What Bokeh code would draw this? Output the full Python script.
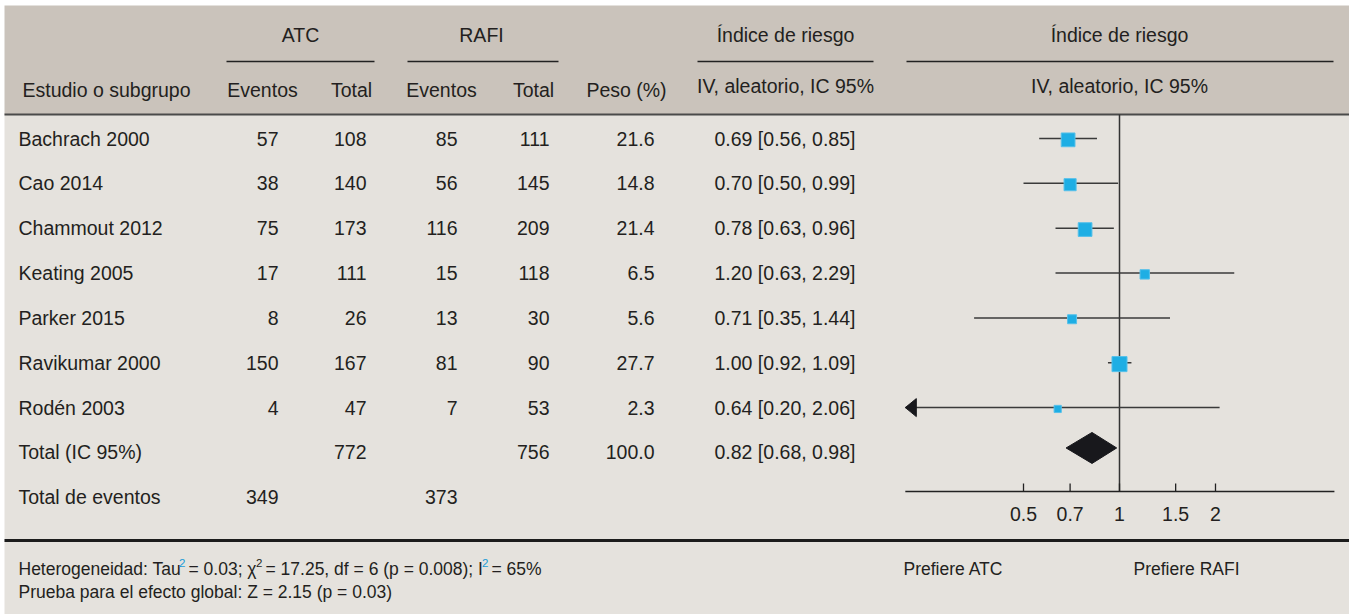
import math
from bokeh.plotting import figure
from bokeh.models import Range1d, LogScale
from bokeh.core.properties import value
from bokeh.embed import file_html
from bokeh.resources import INLINE

# ---------------- data ----------------
studies = ["Bachrach 2000", "Cao 2014", "Chammout 2012", "Keating 2005",
           "Parker 2015", "Ravikumar 2000", "Rodén 2003"]
atc_events = [57, 38, 75, 17, 8, 150, 4]
atc_total = [108, 140, 173, 111, 26, 167, 47]
rafi_events = [85, 56, 116, 15, 13, 81, 7]
rafi_total = [111, 145, 209, 118, 30, 90, 53]
weights = [21.6, 14.8, 21.4, 6.5, 5.6, 27.7, 2.3]
hr = [0.69, 0.70, 0.78, 1.20, 0.71, 1.00, 0.64]
ci_low = [0.56, 0.50, 0.63, 0.63, 0.35, 0.92, 0.20]
ci_high = [0.85, 0.99, 0.96, 2.29, 1.44, 1.09, 2.06]

total_label = "Total (IC 95%)"
total_atc = 772
total_rafi = 756
total_weight = 100.0
total_hr = 0.82
total_low = 0.68
total_high = 0.98

events_label = "Total de eventos"
events_atc = 349
events_rafi = 373

axis_ticks = [0.5, 0.7, 1, 1.5, 2]
axis_tick_labels = ["0.5", "0.7", "1", "1.5", "2"]

# ---------------- layout ----------------
W, H = 1349, 614
ROW0, PITCH = 138.0, 44.85          # page y of first row, row pitch (px)
X_ONE, UNIT = 1119.0, 96.0          # page x of HR=1, px per doubling
FOREST_LO, FOREST_HI = 0.213, 4.72  # forest axis limits

def py(v):
    return (v - ROW0) / PITCH

def hr_at(px):
    return 2 ** ((px - X_ONE) / UNIT)

FONT = value("Liberation Sans")
TXT = "#231f20"
BODY = "19.5px"

p = figure(width=W, height=H, x_range=Range1d(0, W),
           y_range=Range1d(py(H), py(0)),
           x_axis_type=None, y_axis_type=None, toolbar_location=None,
           output_backend="svg", min_border=0, outline_line_color=None,
           background_fill_color="white", border_fill_color="white")
p.extra_x_ranges = {"hr": Range1d(hr_at(0), hr_at(W))}
p.extra_x_scales = {"hr": LogScale()}

# backgrounds
p.quad(left=4, right=W, top=py(114), bottom=py(H), fill_color="#e5e2dd", line_color=None)
p.quad(left=4, right=W, top=py(5), bottom=py(114), fill_color="#cac3bb", line_color=None)
p.segment(x0=4, x1=W, y0=py(114), y1=py(114), line_color="#4a4a4a", line_width=2)
p.segment(x0=4, x1=W, y0=py(540), y1=py(540), line_color="#1c1c1c", line_width=3)

# group underlines
p.segment(x0=[226, 407, 697, 906], x1=[374, 558, 873, 1333], y0=py(61), y1=py(61),
          line_color="#222222", line_width=1.3)

def txt(x, y, t, align="left", size=BODY, color=TXT):
    p.text(x=x, y=y, text=t, text_align=align, text_baseline="middle",
           text_font=FONT, text_font_size=size, text_color=color)

# header texts
txt([300, 481, 785, 1119], [py(34)] * 4, ["ATC", "RAFI", "Índice de riesgo", "Índice de riesgo"], "center")
txt([22], [py(89)], ["Estudio o subgrupo"])
txt([262, 351, 441, 533, 626], [py(89)] * 5, ["Eventos", "Total", "Eventos", "Total", "Peso (%)"], "center")
txt([785, 1119], [py(85)] * 2, ["IV, aleatorio, IC 95%", "IV, aleatorio, IC 95%"], "center")

# table rows
n = len(studies)
rows = list(range(n))
r_tot, r_ev = n, n + 1
txt(18, rows + [r_tot, r_ev], studies + [total_label, events_label])
txt(278, rows + [r_ev], [str(v) for v in atc_events] + [str(events_atc)], "right")
txt(366, rows + [r_tot], [str(v) for v in atc_total] + [str(total_atc)], "right")
txt(457, rows + [r_ev], [str(v) for v in rafi_events] + [str(events_rafi)], "right")
txt(549, rows + [r_tot], [str(v) for v in rafi_total] + [str(total_rafi)], "right")
txt(654, rows + [r_tot], ["%.1f" % v for v in weights] + ["%.1f" % total_weight], "right")
hr_txt = ["%.2f [%.2f, %.2f]" % (a, b, c) for a, b, c in zip(hr, ci_low, ci_high)]
hr_txt.append("%.2f [%.2f, %.2f]" % (total_hr, total_low, total_high))
txt(714, rows + [r_tot], hr_txt)

# forest plot
p.segment(x0=1, x1=1, y0=py(114), y1=py(491), line_color="#333333", line_width=1.5, x_range_name="hr")
x0 = [max(l, FOREST_LO) for l in ci_low]
p.segment(x0=x0, x1=ci_high, y0=rows, y1=rows, line_color="#3a3a3a", line_width=1.5, x_range_name="hr")
# arrows for clipped intervals
ax, ay = [], []
for r, l in zip(rows, ci_low):
    if l < FOREST_LO:
        base = FOREST_LO * 2 ** (11 / UNIT)
        ax.append([FOREST_LO, base, base])
        ay.append([r, r - 9 / PITCH, r + 9 / PITCH])
if ax:
    p.patches(xs=ax, ys=ay, fill_color="#18181c", line_color="#18181c", x_range_name="hr")
sizes = [4 + 2.1 * math.sqrt(w) for w in weights]
p.scatter(x=hr, y=[r + 0.03 for r in rows], size=sizes, marker="square", fill_color="#1eaee4",
          line_color="#55c0ea", line_width=1, x_range_name="hr")
# pooled diamond
dh = 15.5 / PITCH
yc = r_tot - 0.1
p.patch(x=[total_low, total_hr, total_high, total_hr],
        y=[yc, yc - dh, yc, yc + dh],
        fill_color="#18181c", line_color="#18181c", x_range_name="hr")

# forest axis
p.segment(x0=FOREST_LO, x1=FOREST_HI, y0=py(491), y1=py(491), line_color="#222222", line_width=1.3, x_range_name="hr")
p.segment(x0=axis_ticks, x1=axis_ticks, y0=py(483), y1=py(491), line_color="#222222", line_width=1.3, x_range_name="hr")
p.text(x=axis_ticks, y=py(513), text=axis_tick_labels, text_align="center", text_baseline="middle",
       text_font=FONT, text_font_size=BODY, text_color=TXT, x_range_name="hr")

# footer
FS = "17.5px"
txt([903, 1133], [py(568)] * 2, ["Prefiere ATC", "Prefiere RAFI"], size=FS)
txt([18], [py(591)], ["Prueba para el efecto global: Z = 2.15 (p = 0.03)"], size=FS)
y1 = py(568)
txt([18], [y1], ["Heterogeneidad: Tau"], size=FS)
txt([188], [y1], ["= 0.03; χ"], size=FS)
txt([265], [y1], ["= 17.25, df = 6 (p = 0.008); I"], size=FS)
txt([491], [y1], ["= 65%"], size=FS)
ys = py(562)
txt([178.5], [ys], ["2"], size="11.5px", color="#1a9bd7")
txt([255.5], [ys], ["2"], size="11.5px")
txt([481.5], [ys], ["2"], size="11.5px", color="#1a9bd7")

open("out.html", "w").write(file_html(p, INLINE))
